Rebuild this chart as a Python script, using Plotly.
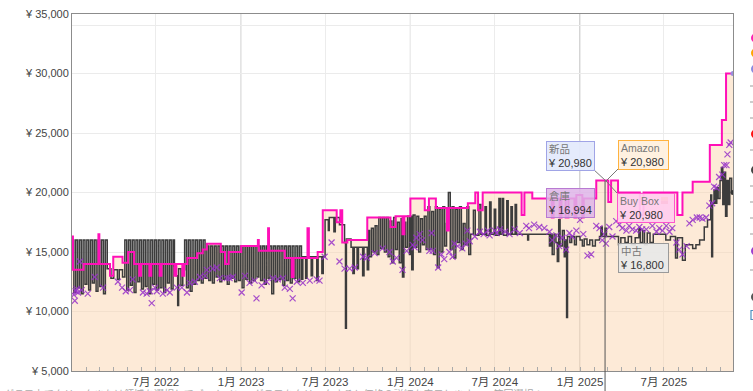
import plotly.graph_objects as go

# ---------------- data ----------------
# Buy Box (magenta step line); Amazon area follows it
bb_dates = [
    "2022-01-01", "2022-01-03", "2022-01-26", "2022-02-27", "2022-03-01", "2022-03-24", "2022-03-31", "2022-04-20", "2022-05-02", "2022-05-15",
    "2022-05-26", "2022-05-30", "2022-06-17", "2022-06-21", "2022-07-09", "2022-07-13", "2022-08-10", "2022-08-14", "2022-08-27", "2022-08-31",
    "2022-09-07", "2022-09-28", "2022-10-10", "2022-10-19", "2022-11-18", "2022-11-27", "2022-12-05",
    "2023-01-01", "2023-02-06", "2023-02-08", "2023-02-28", "2023-03-02", "2023-04-05", "2023-04-20", "2023-04-24", "2023-05-24", "2023-05-27",
    "2023-06-15", "2023-06-26", "2023-07-26", "2023-08-03", "2023-08-07", "2023-08-18", "2023-09-30", "2023-11-19", "2023-11-30", "2023-12-15",
    "2023-12-19",
    "2024-01-01", "2024-02-01", "2024-02-10", "2024-02-25", "2024-03-20", "2024-03-24", "2024-05-04", "2024-05-20", "2024-05-26", "2024-06-05",
    "2024-08-28", "2024-09-03", "2024-09-20", "2024-10-25", "2024-11-01", "2024-11-05", "2024-11-18", "2024-11-22", "2024-12-01", "2024-12-07",
    "2024-12-20", "2024-12-24",
    "2025-01-06", "2025-01-09", "2025-02-05", "2025-03-03", "2025-03-09", "2025-03-24", "2025-05-10", "2025-05-18", "2025-07-30", "2025-08-10",
    "2025-09-01", "2025-10-08", "2025-11-03", "2025-11-12", "2025-11-27",
]
bb_prices = [
    16300, 13500, 14000, 16500, 14000, 13000, 14600, 14100, 15000, 14000,
    13000, 14000, 13000, 14000, 13000, 14000, 13000, 14000, 13000, 14000,
    14500, 14900, 15200, 15700, 15000, 14000, 15000,
    15500, 16000, 15100, 17000, 15100, 14500, 12900, 14500, 17000, 14500,
    15000, 18500, 17500, 18500, 15800, 16000, 17900, 17100, 18000, 16500,
    18000,
    19500, 18500, 19500, 18700, 16800, 18700, 19100, 20000, 18500, 20000,
    18100, 20000, 19500, 19500, 17900, 19500, 17900, 19500, 17900, 19500,
    17900, 19800,
    17900, 19500, 21000, 19200, 21000, 20000, 18100, 20000, 18100, 20000,
    20900, 24000, 26100, 30000, 30000,
]
amazon_gap = ["2024-12-02", "2024-12-05"]

# Used (中古) price, dark step line
used_dates = [
    "2022-01-01", "2022-01-05", "2022-01-09", "2022-01-13", "2022-01-17", "2022-01-21", "2022-01-25", "2022-01-29", "2022-02-02", "2022-02-06",
    "2022-02-10", "2022-02-14", "2022-02-18", "2022-02-22", "2022-02-26", "2022-03-02", "2022-03-06", "2022-03-10", "2022-03-14",
    "2022-03-18", "2022-03-26", "2022-04-01", "2022-04-09", "2022-04-13", "2022-04-20",
    "2022-04-25", "2022-04-29", "2022-05-03", "2022-05-07", "2022-05-11", "2022-05-15", "2022-05-19", "2022-05-23", "2022-05-27", "2022-05-31",
    "2022-06-04", "2022-06-08", "2022-06-12", "2022-06-16", "2022-06-20", "2022-06-24", "2022-06-28", "2022-07-02", "2022-07-06", "2022-07-10",
    "2022-07-14", "2022-07-18", "2022-07-22", "2022-07-26", "2022-07-30", "2022-08-03", "2022-08-07",
    "2022-08-10", "2022-08-14", "2022-08-17", "2022-08-19", "2022-08-24", "2022-08-28",
    "2022-09-01", "2022-09-05", "2022-09-09", "2022-09-13", "2022-09-17", "2022-09-21", "2022-09-25", "2022-09-29", "2022-10-03", "2022-10-07", "2022-10-11",
    "2022-10-15", "2022-10-19", "2022-10-23", "2022-10-27", "2022-10-31", "2022-11-04", "2022-11-08", "2022-11-12", "2022-11-16", "2022-11-20",
    "2022-11-24", "2022-11-28", "2022-12-02", "2022-12-06", "2022-12-10", "2022-12-14", "2022-12-18", "2022-12-22", "2022-12-26", "2022-12-30",
    "2023-01-03", "2023-01-07", "2023-01-11", "2023-01-15", "2023-01-19", "2023-01-23", "2023-01-27", "2023-01-31", "2023-02-04", "2023-02-08",
    "2023-02-12", "2023-02-16", "2023-02-20", "2023-02-24", "2023-02-28", "2023-03-04", "2023-03-08", "2023-03-12", "2023-03-16", "2023-03-20",
    "2023-03-24", "2023-03-28", "2023-04-01", "2023-04-05", "2023-04-09", "2023-04-13", "2023-04-17", "2023-04-21", "2023-04-25", "2023-04-29",
    "2023-05-03", "2023-05-07", "2023-05-11",
    "2023-05-14", "2023-05-20", "2023-05-23", "2023-06-01", "2023-06-04", "2023-06-13", "2023-06-16", "2023-06-24", "2023-06-27",
    "2023-07-01", "2023-07-08", "2023-07-10", "2023-07-20", "2023-07-23", "2023-08-01", "2023-08-12", "2023-08-14", "2023-08-16", "2023-08-26",
    "2023-08-30", "2023-09-02", "2023-09-08", "2023-09-11", "2023-09-20", "2023-09-23", "2023-09-30", "2023-10-03",
    "2023-10-05", "2023-10-09", "2023-10-13", "2023-10-17", "2023-10-21", "2023-10-25", "2023-10-29", "2023-11-02", "2023-11-06", "2023-11-10",
    "2023-11-14", "2023-11-18", "2023-11-22", "2023-11-26", "2023-11-30", "2023-12-04", "2023-12-08", "2023-12-12", "2023-12-15", "2023-12-18",
    "2023-12-22", "2023-12-26", "2023-12-30",
    "2024-01-01", "2024-01-04", "2024-01-07", "2024-01-11", "2024-01-15", "2024-01-19", "2024-01-23", "2024-01-27", "2024-01-31", "2024-02-04",
    "2024-02-08", "2024-02-12", "2024-02-16", "2024-02-20", "2024-02-24", "2024-02-28", "2024-03-03", "2024-03-07", "2024-03-11", "2024-03-15",
    "2024-03-19", "2024-03-23", "2024-03-27", "2024-03-31", "2024-04-04", "2024-04-08", "2024-04-12", "2024-04-16", "2024-04-20", "2024-04-24",
    "2024-04-28", "2024-05-02", "2024-05-06",
    "2024-05-10", "2024-05-16", "2024-05-20", "2024-05-28", "2024-06-01", "2024-06-10", "2024-06-13", "2024-06-20", "2024-06-23", "2024-06-30",
    "2024-07-03", "2024-07-10", "2024-07-13", "2024-07-17", "2024-07-20", "2024-07-27", "2024-07-30", "2024-08-05", "2024-08-08", "2024-08-14",
    "2024-08-17", "2024-09-10", "2024-09-12", "2024-10-27", "2024-10-30", "2024-11-02", "2024-11-06", "2024-11-10", "2024-11-13", "2024-11-16",
    "2024-11-19", "2024-11-24", "2024-11-28", "2024-12-01", "2024-12-03", "2024-12-05", "2024-12-10", "2024-12-14", "2024-12-20", "2024-12-24",
    "2025-01-01", "2025-01-06", "2025-01-10", "2025-01-16", "2025-01-22", "2025-01-28", "2025-02-03", "2025-02-12", "2025-02-15", "2025-02-18",
    "2025-02-24", "2025-02-27", "2025-03-25", "2025-03-30", "2025-04-08", "2025-04-15", "2025-04-22", "2025-04-30", "2025-05-08", "2025-05-11",
    "2025-05-16", "2025-05-20", "2025-05-26", "2025-06-01", "2025-06-08", "2025-07-05", "2025-07-15", "2025-07-26", "2025-07-30", "2025-08-10",
    "2025-08-16", "2025-09-01", "2025-09-08", "2025-09-16", "2025-09-26", "2025-10-03", "2025-10-10", "2025-10-12", "2025-10-14", "2025-10-17",
    "2025-10-20", "2025-10-23", "2025-10-26", "2025-10-30", "2025-11-02", "2025-11-05", "2025-11-08", "2025-11-11", "2025-11-14", "2025-11-17",
    "2025-11-20", "2025-11-24", "2025-11-27",
]
used_prices = [
    16000, 11600, 16000, 12000, 16000, 11500, 16000, 12300, 16000, 11800,
    16000, 12400, 16000, 11700, 16000, 12100, 16000, 11500, 16000,
    13600, 12800, 13500, 12700, 13500, 12900,
    16000, 11800, 16000, 12200, 16000, 11600, 16000, 12500, 16000, 11900,
    16000, 12100, 16000, 11500, 16000, 12300, 16000, 11800, 16000, 12000,
    16000, 11600, 16000, 12400, 16000, 11900, 16000,
    13800, 13000, 10500, 13600, 12200, 13500,
    16000, 12000, 16000, 11700, 16000, 12300, 16000, 12600, 16000, 12400, 16000,
    12800, 15500, 12600, 15500, 12400, 15500, 12900, 15500, 12500, 15500,
    12700, 15500, 12300, 15500, 12800, 15500, 12500, 15500, 12600, 15500,
    12000, 15500, 12700, 15500, 12400, 15500, 12600, 15500, 12900, 15500,
    12600, 15500, 12300, 15500, 12800, 15500, 11500, 15500, 12500, 15500,
    12700, 15500, 12200, 15500, 12600, 15500, 12400, 15500, 12800, 15500,
    12500, 15500, 12700,
    14600, 12800, 14600, 13000, 14600, 12600, 14600, 13200, 14600,
    17700, 16800, 17900, 16700, 17900, 17300, 15800, 8600, 16100, 15400,
    13200, 15400, 13600, 15400, 13000, 15400, 13500, 16800,
    14600, 17000, 15000, 17200, 14800, 17900, 15300, 17900, 15000, 17900,
    14600, 17600, 14100, 17900, 15200, 17500, 14100, 17800, 12900, 17500,
    15400, 18000, 14800,
    18000, 13500, 18100, 15400, 18000, 15000, 17800, 15600, 18000, 15200,
    18800, 15200, 18400, 14800, 18800, 13700, 18600, 15000, 18800, 15500,
    17400, 20000, 15200, 18800, 14500, 18600, 15800, 18800, 15200, 17400,
    15600, 18800, 14800,
    16500, 18500, 16400, 19000, 16500, 18800, 16400, 19200, 16500, 18600,
    16400, 19500, 16500, 19500, 16400, 19300, 16500, 18800, 16500, 19000,
    16500, 16000, 16500, 15500, 16500, 14800, 16500, 15800, 14200, 17700,
    15500, 16800, 14600, 16000, 9500, 16300, 15800, 16300, 15600, 16300,
    16000, 15500, 16100, 15600, 16000, 15500, 16000, 16300, 17100, 16300,
    17000, 16300, 15600, 16200, 15800, 16300, 15600, 16200, 17000, 15800,
    16800, 15600, 16600, 15800, 16500, 16000, 16300, 14500, 16200, 14300,
    15600, 15300, 15600, 16000, 17100, 17700, 19800, 14600, 19100, 20200,
    19100, 20400, 19500, 21000, 22100, 19000, 21700, 18000, 21000, 19000,
    21200, 20000, 20000,
]

# Warehouse (倉庫) offers, purple x markers
wh_dates = [
    "2022-01-05", "2022-01-07", "2022-01-09", "2022-01-11", "2022-01-14", "2022-01-18", "2022-01-22", "2022-02-04", "2022-02-19", "2022-03-09",
    "2022-04-10", "2022-04-19", "2022-04-27", "2022-05-06", "2022-05-12", "2022-06-03", "2022-06-11", "2022-06-18", "2022-06-22", "2022-06-29",
    "2022-07-03", "2022-07-16", "2022-07-25", "2022-07-31", "2022-08-15", "2022-08-26", "2022-09-06", "2022-09-12", "2022-09-23", "2022-10-04",
    "2022-10-15", "2022-10-19", "2022-11-01", "2022-11-09", "2022-11-16", "2022-12-01", "2022-12-07", "2022-12-14",
    "2023-01-02", "2023-01-09", "2023-01-19", "2023-01-30", "2023-02-03", "2023-02-14", "2023-02-25", "2023-03-10", "2023-03-21", "2023-04-01",
    "2023-04-05", "2023-04-16", "2023-04-22", "2023-05-01", "2023-05-14", "2023-05-29", "2023-06-13", "2023-06-19", "2023-06-30", "2023-07-15",
    "2023-08-01", "2023-08-12", "2023-08-23", "2023-09-03", "2023-09-21", "2023-09-29", "2023-10-16", "2023-11-02", "2023-11-17", "2023-11-24",
    "2023-12-02", "2023-12-15", "2023-12-24",
    "2024-01-06", "2024-01-10", "2024-01-14", "2024-01-21", "2024-01-27", "2024-02-11", "2024-02-16", "2024-02-18", "2024-03-01", "2024-03-08",
    "2024-03-14", "2024-03-25", "2024-04-01", "2024-04-05", "2024-04-12", "2024-04-22", "2024-04-29", "2024-05-03", "2024-05-08", "2024-05-19",
    "2024-05-30", "2024-06-07", "2024-06-16", "2024-06-20", "2024-07-01", "2024-07-05", "2024-07-12", "2024-07-23", "2024-08-02", "2024-08-13",
    "2024-08-24", "2024-09-07", "2024-09-13", "2024-09-24", "2024-10-05", "2024-10-16", "2024-10-27", "2024-11-02", "2024-11-11", "2024-11-17",
    "2024-11-24", "2024-12-02", "2024-12-09", "2024-12-15", "2024-12-24",
    "2025-01-01", "2025-01-08", "2025-01-17", "2025-01-25", "2025-02-05", "2025-02-12", "2025-02-18", "2025-02-22", "2025-02-26", "2025-03-05",
    "2025-03-12", "2025-03-20", "2025-03-27", "2025-04-02", "2025-04-11", "2025-04-17", "2025-04-24", "2025-05-02", "2025-05-09", "2025-05-15",
    "2025-05-24", "2025-06-06", "2025-06-15", "2025-06-21", "2025-06-28", "2025-07-06", "2025-07-13", "2025-07-19", "2025-07-28", "2025-08-03",
    "2025-08-10", "2025-08-19", "2025-08-25", "2025-09-01", "2025-09-10", "2025-09-16", "2025-09-22", "2025-09-30", "2025-10-07", "2025-10-13",
    "2025-10-17", "2025-10-22", "2025-10-28", "2025-11-04", "2025-11-08", "2025-11-13", "2025-11-15", "2025-11-19", "2025-11-22",
]
wh_prices = [
    11400, 10900, 11700, 11900, 11600, 14200, 11800, 11500, 12900, 12000,
    12500, 12000, 11700, 11800, 12700, 11600, 11500, 11700, 10700, 12000,
    11700, 11500, 11800, 11600, 12000, 12000, 11600, 12400, 12500, 12900,
    13000, 13500, 13600, 13700, 12800, 12800, 12800, 12900,
    11600, 13000, 12400, 12600, 11100, 12200, 12500, 12800, 12700, 12800,
    12000, 11900, 11100, 12500, 12400, 12600, 12700, 12600, 14600, 15800,
    14200, 13600, 13600, 13700, 14600, 14500, 14900, 15300, 15000, 14200,
    14500, 13500, 15100,
    15600, 15400, 16200, 16500, 16000, 15100, 16600, 15100, 13700, 14800,
    14400, 15000, 14600, 15700, 15500, 15300, 15700, 16800, 15900, 16300,
    16700, 16500, 16800, 16400, 16800, 16600, 16900, 16700, 16500, 16900,
    16600, 17200, 17000, 17300, 17100, 17000, 16700, 16000, 16400, 15500,
    16200, 15200, 16600, 16300, 16800,
    17700, 16500, 14700, 14800, 17200, 17000, 16000, 16500, 15700, 17100,
    16300, 17600, 17300, 17000, 16800, 17200, 16900, 16800, 17100, 16900,
    16900, 17200, 16700, 17000, 16800, 17200, 16700, 17000, 15800, 15200,
    14800, 15500, 17400, 17700, 17900, 17900, 17800, 17900, 18900, 19100,
    20500, 20400, 21300, 21500, 22300, 22300, 23200, 24000, 24200,
]

# axis ticks
x_tick_dates = ["2022-07-01", "2023-01-01", "2023-07-01", "2024-01-01", "2024-07-01", "2025-01-01", "2025-07-01"]
x_tick_labels = ["7月 2022", "1月 2023", "7月 2023", "1月 2024", "7月 2024", "1月 2025", "7月 2025"]
y_tick_values = [5000, 10000, 15000, 20000, 25000, 30000, 35000]
y_extra_grid = [34000]
x_range = ["2022-01-01", "2025-11-27"]
y_range = [5000, 35000]

# hover tooltip at the cursor
cursor_date = "2025-02-24"
tip_labels = ["新品", "Amazon", "倉庫", "Buy Box", "中古"]
tip_values = [20980, 20980, 16994, 20980, 16800]

assert len(bb_dates) == len(bb_prices)
assert len(used_dates) == len(used_prices)
assert len(wh_dates) == len(wh_prices)

# ---------------- layout helpers ----------------
W, H = 753, 391
ML, MR, MT, MB = 72, 20, 14, 20
PW, PH = W - ML - MR, H - MT - MB


def px(x):
    return (x - ML) / PW


def py(y):
    return (H - MB - y) / PH


FONT = "Liberation Sans, Arial, Noto Sans CJK JP, sans-serif"

# Amazon area = buy box series with a short gap
am_dates, am_prices = [], []
done = False
for d, p in zip(bb_dates, bb_prices):
    if not done and d > amazon_gap[0]:
        cur = [pp for dd, pp in zip(bb_dates, bb_prices) if dd <= amazon_gap[0]][-1]
        am_dates += [amazon_gap[0], amazon_gap[0], amazon_gap[1]]
        am_prices += [cur, None, cur]
        done = True
    am_dates.append(d)
    am_prices.append(p)

fig = go.Figure()
fig.add_trace(go.Scatter(
    x=am_dates, y=am_prices, mode="lines", line=dict(width=0, shape="hv"),
    fill="tozeroy", fillcolor="rgba(251,214,176,0.5)", connectgaps=False, hoverinfo="skip"))
fig.add_trace(go.Scatter(
    x=used_dates, y=used_prices, mode="lines",
    line=dict(color="#3c3c3c", width=1.5, shape="hv"), hoverinfo="skip"))
fig.add_trace(go.Scatter(
    x=wh_dates, y=wh_prices, mode="markers",
    marker=dict(symbol="x-thin", size=6, color="rgba(150,50,200,0.85)",
                line=dict(width=1.2, color="rgba(150,50,200,0.85)")), hoverinfo="skip"))
fig.add_trace(go.Scatter(
    x=bb_dates, y=bb_prices, mode="lines",
    line=dict(color="#ff10b8", width=2, shape="hv"), hoverinfo="skip"))
fig.add_trace(go.Scatter(
    x=[bb_dates[-1]], y=[bb_prices[-1]], mode="markers",
    marker=dict(color="#9a8fdc", size=5), hoverinfo="skip"))
fig.add_trace(go.Scatter(
    x=[used_dates[-1]], y=[used_prices[-1]], mode="markers",
    marker=dict(color="#333", size=5), hoverinfo="skip"))

shapes = []
# darker January lines
for d, lab in zip(x_tick_dates, x_tick_labels):
    if lab.startswith("1月"):
        shapes.append(dict(type="line", xref="x", yref="paper", x0=d, x1=d, y0=0, y1=1,
                           line=dict(color="#a8a8a8", width=1), layer="below"))
# cursor line
cur_bb = tip_values[tip_labels.index("新品")]
shapes.append(dict(type="line", xref="x", yref="paper", x0=cursor_date, x1=cursor_date,
                   y0=py(391), y1=(cur_bb - y_range[0]) / (y_range[1] - y_range[0]),
                   line=dict(color="#555", width=1), layer="above"))
# tooltip connector lines
for (x0, y0, x1, y1) in [(593, 169, 606, 181), (618, 169, 606, 181), (606, 181, 617, 193)]:
    shapes.append(dict(type="line", xref="paper", yref="paper", x0=px(x0), y0=py(y0), x1=px(x1), y1=py(y1),
                       line=dict(color="#777", width=1), layer="above"))

# right-side legend (cut off by the window edge)
legend_items = [
    (38, "dot", "#ff1fb4"), (53, "dot", "#ffa500"), (69, "dot", "#8a8ae0"),
    (86, "dash", "#bdbdbd"), (102, "dash", "#bdbdbd"), (118, "dash", "#bdbdbd"),
    (134, "dot", "#ff1010"), (150, "dash", "#bdbdbd"), (170, "dot", "#444444"),
    (186, "dash", "#bdbdbd"), (202, "dash", "#bdbdbd"), (218, "dash", "#bdbdbd"),
    (234, "dash", "#bdbdbd"), (251, "dot", "#9b3fcf"), (270, "dash", "#bdbdbd"),
    (297, "dot", "#555555"), (315, "box", "#4a90c0"),
]
for yy, kind, col in legend_items:
    if kind == "dot":
        shapes.append(dict(type="circle", xref="paper", yref="paper", x0=px(751), x1=px(760),
                           y0=py(yy + 4.5), y1=py(yy - 4.5), fillcolor=col, line=dict(width=0)))
    elif kind == "dash":
        shapes.append(dict(type="line", xref="paper", yref="paper", x0=px(750), x1=px(753),
                           y0=py(yy), y1=py(yy), line=dict(color=col, width=1.5)))
    else:
        shapes.append(dict(type="rect", xref="paper", yref="paper", x0=px(751), x1=px(760),
                           y0=py(yy + 4.5), y1=py(yy - 4.5), line=dict(color=col, width=1.2)))

# small icon in the Buy Box tooltip
shapes.append(dict(type="rect", xref="paper", yref="paper", x0=px(661), x1=px(668), y0=py(201), y1=py(197),
                   fillcolor="#f5a623", line=dict(width=0), layer="above"))
shapes.append(dict(type="rect", xref="paper", yref="paper", x0=px(661), x1=px(668), y0=py(204), y1=py(201),
                   fillcolor="#e0533a", line=dict(width=0), layer="above"))

# tooltips
tip_pos = {"新品": (546, 141), "Amazon": (618, 140), "倉庫": (546, 188), "Buy Box": (617, 193), "中古": (618, 243)}
tip_style = {
    "新品": ("rgba(228,234,252,0.95)", "#a0a4e6", 45),
    "Amazon": ("rgba(255,240,222,0.95)", "#ffb340", 47),
    "倉庫": ("rgba(222,180,232,0.85)", "#b87ad2", 45),
    "Buy Box": ("rgba(255,205,238,0.92)", "#ff55cc", 54),
    "中古": ("rgba(232,232,232,0.92)", "#9a9a9a", 47),
}
annotations = []
for lab, val in zip(tip_labels, tip_values):
    x0, y0 = tip_pos[lab]
    bg, bc, w = tip_style[lab]
    annotations.append(dict(
        xref="paper", yref="paper", x=px(x0), y=py(y0), xanchor="left", yanchor="top",
        text=f"<span style='font-size:10.5px;color:#777'>{lab}</span><br>¥ {val:,}",
        showarrow=False, align="left", valign="middle",
        font=dict(family=FONT, size=11, color="#333"),
        bgcolor=bg, bordercolor=bc, borderwidth=1, borderpad=1, width=w, height=26))

# bottom hint text (cut off by the window, as in the original)
annotations.append(dict(
    xref="paper", yref="paper", x=px(2), y=py(386), xanchor="left", yanchor="top",
    text="グラフ上でクリックまたは領域を選択してズームイン・グラフをクリックすると価格の詳細を表示します　　範囲選択：",
    showarrow=False, font=dict(family=FONT, size=10, color="#aaa")))

fig.update_layout(
    width=W, height=H,
    margin=dict(l=ML, r=MR, t=MT, b=MB, autoexpand=False),
    paper_bgcolor="white", plot_bgcolor="white",
    showlegend=False, hovermode=False,
    font=dict(family=FONT, size=11, color="#444"),
    shapes=shapes, annotations=annotations,
    xaxis=dict(
        type="date", range=x_range, automargin=False,
        tickvals=x_tick_dates, ticktext=x_tick_labels,
        tickfont=dict(family=FONT, size=11.5, color="#444"),
        showgrid=True, gridcolor="#ececec", gridwidth=1,
        ticks="inside", ticklen=4, tickcolor="#aaa",
        minor=dict(dtick="M1", tick0="2022-01-01", ticks="inside", ticklen=4, tickcolor="#aaa", showgrid=False),
        showline=True, linecolor="#8c8c8c", linewidth=1, mirror=True,
        zeroline=False, fixedrange=True,
    ),
    yaxis=dict(
        range=y_range, automargin=False,
        tickvals=y_tick_values + y_extra_grid,
        ticktext=[f"¥ {v:,}" for v in y_tick_values] + ["" for _ in y_extra_grid],
        tickfont=dict(family=FONT, size=11, color="#444"),
        showgrid=True, gridcolor="#ebebeb", gridwidth=1,
        ticks="", showline=True, linecolor="#8c8c8c", linewidth=1, mirror=True,
        zeroline=False, fixedrange=True,
    ),
)

fig.write_html("out.html")
